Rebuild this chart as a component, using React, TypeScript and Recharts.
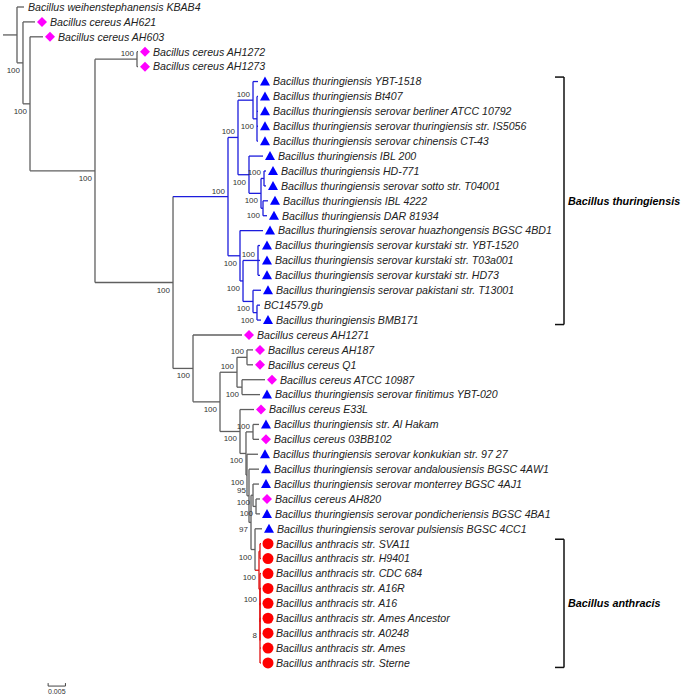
import React from 'react'
import { ComposedChart, XAxis, YAxis, Scatter, ReferenceLine } from 'recharts'

// leaves, top to bottom
const leafNames = [
  'Bacillus weihenstephanensis KBAB4',
  'Bacillus cereus AH621',
  'Bacillus cereus AH603',
  'Bacillus cereus AH1272',
  'Bacillus cereus AH1273',
  'Bacillus thuringiensis YBT-1518',
  'Bacillus thuringiensis Bt407',
  'Bacillus thuringiensis serovar berliner ATCC 10792',
  'Bacillus thuringiensis serovar thuringiensis str. IS5056',
  'Bacillus thuringiensis serovar chinensis CT-43',
  'Bacillus thuringiensis IBL 200',
  'Bacillus thuringiensis HD-771',
  'Bacillus thuringiensis serovar sotto str. T04001',
  'Bacillus thuringiensis IBL 4222',
  'Bacillus thuringiensis DAR 81934',
  'Bacillus thuringiensis serovar huazhongensis BGSC 4BD1',
  'Bacillus thuringiensis serovar kurstaki str. YBT-1520',
  'Bacillus thuringiensis serovar kurstaki str. T03a001',
  'Bacillus thuringiensis serovar kurstaki str. HD73',
  'Bacillus thuringiensis serovar pakistani str. T13001',
  'BC14579.gb',
  'Bacillus thuringiensis BMB171',
  'Bacillus cereus AH1271',
  'Bacillus cereus AH187',
  'Bacillus cereus Q1',
  'Bacillus cereus ATCC 10987',
  'Bacillus thuringiensis serovar finitimus YBT-020',
  'Bacillus cereus E33L',
  'Bacillus thuringiensis str. Al Hakam',
  'Bacillus cereus 03BB102',
  'Bacillus thuringiensis serovar konkukian str. 97 27',
  'Bacillus thuringiensis serovar andalousiensis BGSC 4AW1',
  'Bacillus thuringiensis serovar monterrey BGSC 4AJ1',
  'Bacillus cereus AH820',
  'Bacillus thuringiensis serovar pondicheriensis BGSC 4BA1',
  'Bacillus thuringiensis serovar pulsiensis BGSC 4CC1',
  'Bacillus anthracis str. SVA11',
  'Bacillus anthracis str. H9401',
  'Bacillus anthracis str. CDC 684',
  'Bacillus anthracis str. A16R',
  'Bacillus anthracis str. A16',
  'Bacillus anthracis str. Ames Ancestor',
  'Bacillus anthracis str. A0248',
  'Bacillus anthracis str. Ames',
  'Bacillus anthracis str. Sterne',
]

// n = none, c = cereus, t = thuringiensis, a = anthracis
const leafMarks = [
  'n', 'c', 'c', 'c', 'c',
  't', 't', 't', 't', 't',
  't', 't', 't', 't', 't',
  't', 't', 't', 't', 't',
  'n', 't', 'c', 'c', 'c',
  'c', 't', 'c', 't', 'c',
  't', 't', 't', 'c', 't',
  't', 'a', 'a', 'a', 'a',
  'a', 'a', 'a', 'a', 'a',
]

// distance from root (substitutions / site)
const leafTips = [
  0.00202, 0.0052, 0.00751, 0.03497, 0.03497,
  0.06965, 0.06965, 0.06965, 0.06965, 0.06965,
  0.0711, 0.07197, 0.07197, 0.07254, 0.07225,
  0.0711, 0.07023, 0.07023, 0.07023, 0.07052,
  0.07023, 0.07052, 0.06503, 0.06821, 0.06821,
  0.07168, 0.07023, 0.0685, 0.06994, 0.06994,
  0.06965, 0.06994, 0.06994, 0.07023, 0.07023,
  0.07081, 0.07052, 0.07052, 0.07052, 0.07052,
  0.07052, 0.07052, 0.07052, 0.07052, 0.07052,
]

const leafParents = [
  'root', 'A', 'B', 'D', 'D',
  'F1a', 'F1as', 'F1as', 'F1as', 'F1as',
  'F1b', 'H1', 'H1', 'H2', 'H2',
  'F2', 'J', 'J', 'J', 'K',
  'L', 'L', 'G', 'N1', 'N1',
  'N2', 'N2', 'O', 'Q', 'Q',
  'R', 'S', 'U', 'V', 'V',
  'W', 'AN1', 'AN1', 'AN2', 'AN3',
  'AN4', 'AN5', 'AN5', 'AN5', 'AN5',
]

// [id, parent, depth, bootstrap, label side]
const treeNodes: [string, string | null, number, number | null, 'a' | 'b'][] = [
  ['root', null, 0, null, 'b'],
  ['A', 'root', 0.00173, 100, 'b'],
  ['B', 'A', 0.00376, 100, 'b'],
  ['C', 'B', 0.02254, 100, 'b'],
  ['D', 'C', 0.03468, 100, 'a'],
  ['E', 'C', 0.04509, 100, 'b'],
  ['F', 'E', 0.06098, 100, 'a'],
  ['F1', 'F', 0.06387, 100, 'a'],
  ['F1a', 'F1', 0.06821, 100, 'a'],
  ['F1as', 'F1a', 0.06936, 100, 'b'],
  ['F1b', 'F1', 0.06705, 100, 'b'],
  ['H', 'F1b', 0.07052, 100, 'b'],
  ['H1', 'H', 0.07139, 100, 'a'],
  ['H2', 'H', 0.0711, 100, 'b'],
  ['F2', 'F', 0.06445, 100, 'b'],
  ['I', 'F2', 0.06532, 100, 'b'],
  ['J', 'I', 0.06965, 100, 'a'],
  ['K', 'I', 0.06821, 100, 'b'],
  ['L', 'K', 0.06936, 100, 'b'],
  ['G', 'E', 0.05087, 100, 'b'],
  ['M', 'G', 0.05867, 100, 'b'],
  ['N', 'M', 0.06358, 100, 'a'],
  ['N1', 'N', 0.06647, 100, 'a'],
  ['N2', 'N', 0.06503, 100, 'b'],
  ['O', 'M', 0.06445, 100, 'b'],
  ['P', 'O', 0.06618, 100, 'b'],
  ['Q', 'P', 0.06821, 100, 'a'],
  ['R', 'P', 0.06647, 100, 'b'],
  ['S', 'R', 0.06705, 95, 'a'],
  ['T', 'S', 0.06763, 97, 'b'],
  ['U', 'T', 0.06821, 100, 'b'],
  ['V', 'U', 0.06908, 100, 'b'],
  ['W', 'T', 0.06879, 100, 'b'],
  ['AN0', 'W', 0.06994, 100, 'b'],
  ['AN1', 'AN0', 0.07023, null, 'b'],
  ['AN2', 'AN0', 0.07023, null, 'b'],
  ['AN3', 'AN2', 0.07023, 100, 'a'],
  ['AN4', 'AN3', 0.07023, null, 'b'],
  ['AN5', 'AN4', 0.07023, 8, 'a'],
]

const clades = [
  { name: 'Bacillus thuringiensis', first: 5, last: 21 },
  { name: 'Bacillus anthracis', first: 36, last: 44 },
]
const cladeX = 0.15809
const rootStub = -0.00405
const scaleBar = { from: 0.009, to: 0.014, y: 45.55, label: '0.005' }

const GRAY = '#5f5f5f'
const BLUE = '#1c1cdc'
const RED = '#e01010'
const FONT = '"Liberation Sans", Arial, sans-serif'

// ---- layout from the tree ----
const nodeDepth: Record<string, number> = {}
const nodeParent: Record<string, string | null> = {}
treeNodes.forEach(([id, p, d]) => { nodeDepth[id] = d; nodeParent[id] = p })

const childNodes: Record<string, string[]> = {}
const childLeaves: Record<string, number[]> = {}
treeNodes.forEach(([id, p]) => { if (p) (childNodes[p] ||= []).push(id) })
leafParents.forEach((p, i) => (childLeaves[p] ||= []).push(i))

const nodeY: Record<string, number> = {}
const span: Record<string, [number, number]> = {}
function place(id: string): number {
  const ys = [
    ...(childLeaves[id] || []),
    ...(childNodes[id] || []).map(place),
  ]
  const lo = Math.min(...ys)
  const hi = Math.max(...ys)
  span[id] = [lo, hi]
  nodeY[id] = (lo + hi) / 2
  return nodeY[id]
}
place('root')

function colorOf(id: string | null): string {
  let cur = id
  while (cur) {
    if (cur === 'F') return BLUE
    if (cur === 'AN0') return RED
    cur = nodeParent[cur]
  }
  return GRAY
}

type Seg = { x1: number; y1: number; x2: number; y2: number; c: string }
const segs: Seg[] = []
treeNodes.forEach(([id, p, d]) => {
  segs.push({ x1: d, y1: span[id][0], x2: d, y2: span[id][1], c: colorOf(id) })
  if (p) segs.push({ x1: nodeDepth[p], y1: nodeY[id], x2: d, y2: nodeY[id], c: colorOf(id) })
})
segs.push({ x1: rootStub, y1: nodeY.root, x2: 0, y2: nodeY.root, c: GRAY })
leafParents.forEach((p, i) => {
  segs.push({ x1: nodeDepth[p], y1: i, x2: leafTips[i], y2: i, c: colorOf(p) })
})

const leafData = leafNames.map((name, i) => ({ x: leafTips[i], y: i, name, mark: leafMarks[i] }))
const supportData = treeNodes
  .filter(n => n[3] !== null)
  .map(([id, , d, s, side]) => ({ x: d, y: nodeY[id], s, side }))
const cladeData = clades.map(c => ({ x: cladeX, y: (c.first + c.last) / 2, name: c.name }))

const LeafShape = (p: any) => {
  const { cx, cy, payload } = p
  const m = payload.mark
  const mx = cx + 7
  let marker = null
  if (m === 'c') marker = <polygon points={`${mx},${cy - 5} ${mx + 5},${cy} ${mx},${cy + 5} ${mx - 5},${cy}`} fill="#ff00ff" />
  if (m === 't') marker = <polygon points={`${mx},${cy - 5} ${mx + 5},${cy + 4} ${mx - 5},${cy + 4}`} fill="#0000ff" />
  if (m === 'a') marker = <circle cx={mx} cy={cy} r={5.5} fill="#ff0000" />
  return (
    <g>
      {marker}
      <text x={m === 'n' ? cx + 4 : cx + 15} y={cy} dy="0.36em" fontSize={10.6} fontStyle="italic"
        fontFamily={FONT} fill="#222">{payload.name}</text>
    </g>
  )
}

const SupportShape = (p: any) => {
  const { cx, cy, payload } = p
  return (
    <text x={cx - 3} y={payload.side === 'a' ? cy - 3 : cy + 10} textAnchor="end" fontSize={8}
      fontFamily={FONT} fill="#333">{payload.s}</text>
  )
}

const CladeShape = (p: any) => {
  const { cx, cy, payload } = p
  return (
    <text x={cx + 4} y={cy} dy="0.36em" fontSize={10.8} fontStyle="italic" fontWeight="bold"
      fontFamily={FONT} fill="#000">{payload.name}</text>
  )
}

const ScaleShape = (p: any) => {
  const { cx, cy } = p
  return (
    <text x={cx} y={cy + 8} textAnchor="middle" fontSize={7} fontFamily={FONT} fill="#333">{scaleBar.label}</text>
  )
}

export default function App() {
  const tick = 0.0026
  return (
    <div style={{ position: 'absolute', left: 0, top: 0, background: '#fff' }}>
      <ComposedChart width={685} height={698} margin={{ top: 0, right: 0, bottom: 0, left: 0 }}>
        <XAxis type="number" dataKey="x" domain={[-0.004913, 0.19306]} hide allowDataOverflow />
        <YAxis type="number" dataKey="y" domain={[-0.4695, 46.35]} reversed hide allowDataOverflow />
        {segs.map((s, i) => (
          <ReferenceLine key={'s' + i} segment={[{ x: s.x1, y: s.y1 }, { x: s.x2, y: s.y2 }]}
            stroke={s.c} strokeWidth={1.3} ifOverflow="visible" />
        ))}
        {clades.map((c, i) => (
          <React.Fragment key={'c' + i}>
            <ReferenceLine segment={[{ x: cladeX, y: c.first - 0.3 }, { x: cladeX, y: c.last + 0.3 }]}
              stroke="#111" strokeWidth={1.5} ifOverflow="visible" />
            <ReferenceLine segment={[{ x: cladeX - tick, y: c.first - 0.3 }, { x: cladeX, y: c.first - 0.3 }]}
              stroke="#111" strokeWidth={1.5} ifOverflow="visible" />
            <ReferenceLine segment={[{ x: cladeX - tick, y: c.last + 0.3 }, { x: cladeX, y: c.last + 0.3 }]}
              stroke="#111" strokeWidth={1.5} ifOverflow="visible" />
          </React.Fragment>
        ))}
        <ReferenceLine segment={[{ x: scaleBar.from, y: scaleBar.y }, { x: scaleBar.to, y: scaleBar.y }]}
          stroke="#444" strokeWidth={1} ifOverflow="visible" />
        <ReferenceLine segment={[{ x: scaleBar.from, y: scaleBar.y - 0.2 }, { x: scaleBar.from, y: scaleBar.y }]}
          stroke="#444" strokeWidth={1} ifOverflow="visible" />
        <ReferenceLine segment={[{ x: scaleBar.to, y: scaleBar.y - 0.2 }, { x: scaleBar.to, y: scaleBar.y }]}
          stroke="#444" strokeWidth={1} ifOverflow="visible" />
        <Scatter data={leafData} shape={LeafShape} isAnimationActive={false} />
        <Scatter data={supportData} shape={SupportShape} isAnimationActive={false} />
        <Scatter data={cladeData} shape={CladeShape} isAnimationActive={false} />
        <Scatter data={[{ x: (scaleBar.from + scaleBar.to) / 2, y: scaleBar.y }]} shape={ScaleShape}
          isAnimationActive={false} />
      </ComposedChart>
    </div>
  )
}
